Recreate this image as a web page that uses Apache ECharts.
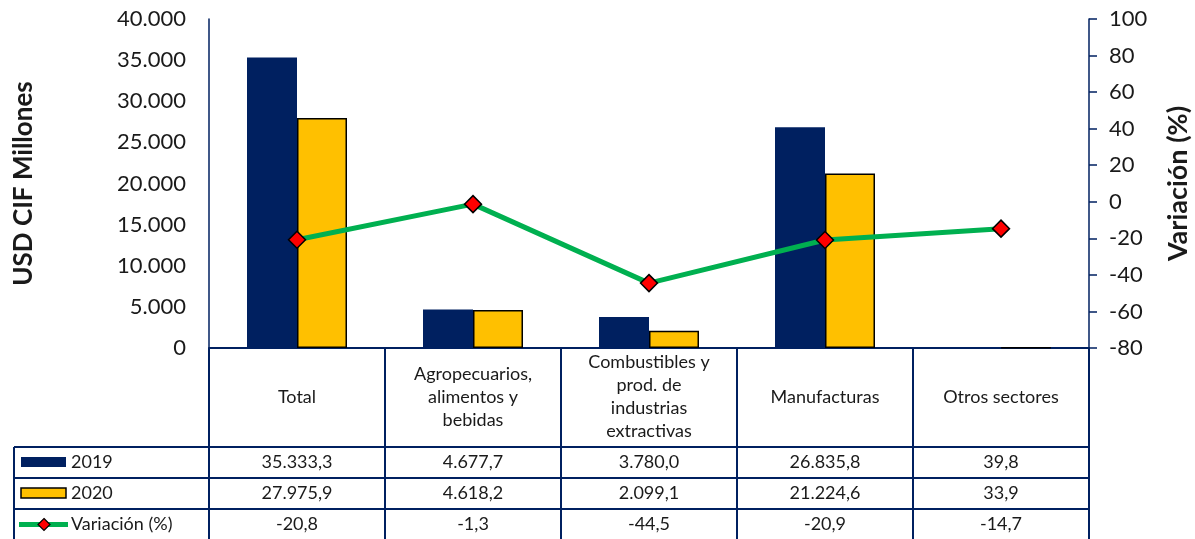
<!DOCTYPE html>
<html>
<head>
<meta charset="utf-8">
<script src="https://cdn.jsdelivr.net/npm/echarts@6/dist/echarts.min.js"></script>
<style>
  html, body { margin: 0; padding: 0; background: #fff; }
  #chart { width: 1195px; height: 539px; }
</style>
</head>
<body>
<div id="chart"></div>
<script>
var categorias = ['Total', 'Agropecuarios,\nalimentos y\nbebidas', 'Combustibles y\nprod. de\nindustrias\nextractivas', 'Manufacturas', 'Otros sectores'];
var valores2019 = [35333.3, 4677.7, 3780.0, 26835.8, 39.8];
var valores2020 = [27975.9, 4618.2, 2099.1, 21224.6, 33.9];
var variacion = [-20.8, -1.3, -44.5, -20.9, -14.7];

var azul = '#002060', oro = '#FFC000', verde = '#00B050', texto = '#1a1a1a';
var fuente = 'Lato, sans-serif';

// numero con punto de miles y coma decimal
function fmt(v, dec) {
    var s = Math.abs(v).toFixed(dec);
    var partes = s.split('.');
    var ent = partes[0].replace(/\B(?=(\d{3})+(?!\d))/g, '.');
    return (v < 0 ? '-' : '') + ent + (partes[1] ? ',' + partes[1] : '');
}

var chart = echarts.init(document.getElementById('chart'));

var option = {
    animation: false,
    grid: { left: 209, right: 106, top: 19, bottom: 191, containLabel: false, outerBoundsMode: 'none' },
    xAxis: {
        type: 'category',
        data: categorias,
        axisLine: { lineStyle: { color: azul, width: 2 } },
        axisTick: { show: true, length: 191, lineStyle: { color: azul, width: 2 } },
        axisLabel: {
            interval: 0, margin: 49, verticalAlign: 'middle', lineHeight: 23,
            fontSize: 18, fontFamily: fuente, color: texto
        }
    },
    yAxis: [
        {
            type: 'value', min: 0, max: 40000, interval: 5000,
            name: 'USD CIF Millones', nameLocation: 'middle', nameRotate: 90, nameGap: 172,
            nameTextStyle: { fontSize: 26, fontWeight: 'bold', fontFamily: fuente, color: texto },
            axisLine: { show: true, lineStyle: { color: azul, width: 1.5 } },
            axisTick: { show: false },
            splitLine: { show: false },
            axisLabel: { margin: 23, fontSize: 22, fontFamily: fuente, color: texto,
                formatter: function (v) { return fmt(v, 0); } }
        },
        {
            type: 'value', min: -80, max: 100, interval: 20, position: 'right',
            name: 'Variación (%)', nameLocation: 'middle', nameRotate: 90, nameGap: 76,
            nameTextStyle: { fontSize: 27, fontWeight: 'bold', fontFamily: fuente, color: texto },
            axisLine: { show: true, lineStyle: { color: azul, width: 1.5 } },
            axisTick: { show: true, inside: false, length: 8, lineStyle: { color: azul, width: 1.5 } },
            splitLine: { show: false },
            axisLabel: { margin: 20, fontSize: 22, fontFamily: fuente, color: texto }
        }
    ],
    series: [
        {
            name: '2019', type: 'bar', data: valores2019, barWidth: 50, barGap: 0,
            itemStyle: { color: azul }
        },
        {
            name: '2020', type: 'bar', data: valores2020, barWidth: 50,
            itemStyle: { color: oro, borderColor: '#000', borderWidth: 1.5 }
        },
        {
            name: 'Variación (%)', type: 'line', yAxisIndex: 1, data: variacion,
            lineStyle: { color: verde, width: 5 },
            symbol: 'diamond', symbolSize: 17,
            itemStyle: { color: '#FF0000', borderColor: '#000', borderWidth: 1.5 },
            z: 5
        }
    ]
};

chart.setOption(option);

// tabla de datos bajo el grafico
var filas = [valores2019.map(function (v) { return fmt(v, 1); }),
             valores2020.map(function (v) { return fmt(v, 1); }),
             variacion.map(function (v) { return fmt(v, 1); })];
var yBase = chart.convertToPixel({ yAxisIndex: 0 }, 0);
var xIzq = chart.convertToPixel({ xAxisIndex: 0 }, 0);
var paso = chart.convertToPixel({ xAxisIndex: 0 }, 1) - xIzq;
var xFin = xIzq + paso * (categorias.length - 0.5);
var altoCab = 99, altoFila = 31, xTabla = 14;
var g = [];
for (var r = 0; r < 4; r++) {
    var y = yBase + altoCab + r * altoFila;
    g.push({ type: 'line', shape: { x1: xTabla, y1: y, x2: xFin, y2: y },
        style: { stroke: azul, lineWidth: 2 } });
}
g.push({ type: 'line', shape: { x1: xTabla, y1: yBase + altoCab, x2: xTabla, y2: 539 },
    style: { stroke: azul, lineWidth: 2 } });
filas.forEach(function (fila, r) {
    var yc = yBase + altoCab + r * altoFila + altoFila / 2;
    fila.forEach(function (t, i) {
        g.push({ type: 'text', x: xIzq + paso * i, y: yc,
            style: { text: t, align: 'center', verticalAlign: 'middle',
                fontSize: 18, fontFamily: fuente, fill: texto } });
    });
});
// claves de leyenda en la tabla
var yk = yBase + altoCab;
g.push({ type: 'rect', shape: { x: 21, y: yk + 10, width: 45, height: 10 }, style: { fill: azul } });
g.push({ type: 'rect', shape: { x: 21, y: yk + altoFila + 10, width: 45, height: 10 },
    style: { fill: oro, stroke: '#000', lineWidth: 1.5 } });
g.push({ type: 'line', shape: { x1: 19, y1: yk + altoFila * 2.5, x2: 68, y2: yk + altoFila * 2.5 },
    style: { stroke: verde, lineWidth: 5 } });
g.push({ type: 'polygon', shape: { points: [[44, yk + altoFila * 2.5 - 6], [50, yk + altoFila * 2.5],
    [44, yk + altoFila * 2.5 + 6], [38, yk + altoFila * 2.5]] },
    style: { fill: '#FF0000', stroke: '#000', lineWidth: 1.2 } });
['2019', '2020', 'Variación (%)'].forEach(function (t, r) {
    g.push({ type: 'text', x: 71, y: yk + r * altoFila + altoFila / 2,
        style: { text: t, align: 'left', verticalAlign: 'middle',
            fontSize: 18, fontFamily: fuente, fill: texto } });
});
chart.setOption({ graphic: g });
</script>
</body>
</html>
